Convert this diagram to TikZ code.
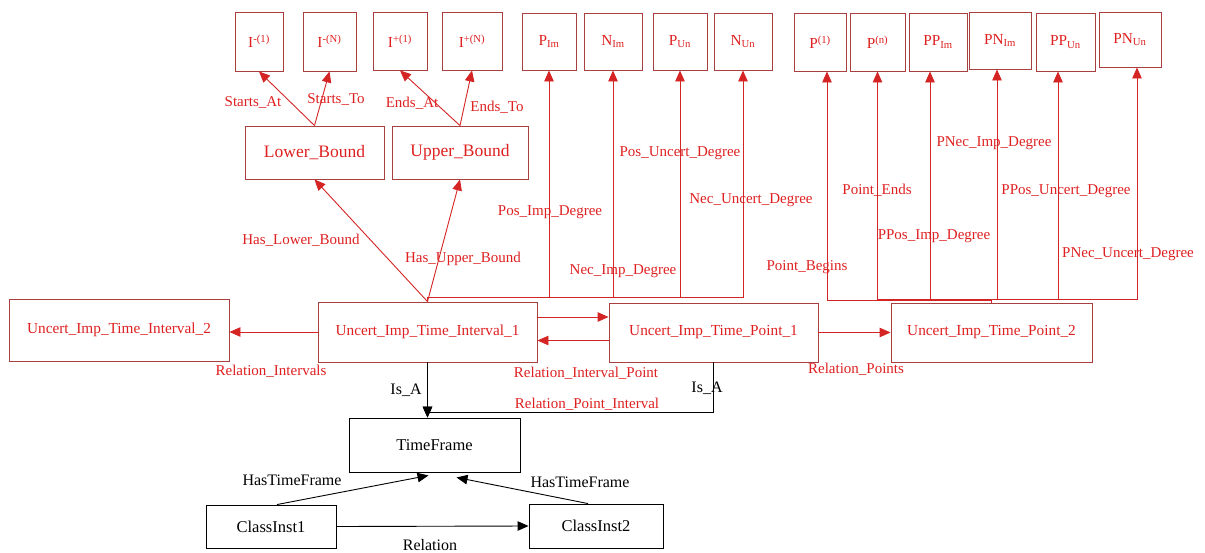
\documentclass[tikz,border=0pt]{standalone}
\usepackage{fontspec}
\setmainfont{Liberation Serif}
\usetikzlibrary{arrows.meta}
\definecolor{boxred}{RGB}{168,64,64}
\definecolor{txtred}{RGB}{222,32,32}
\definecolor{edgered}{RGB}{212,36,36}
\tikzset{
  rbox/.style={draw=boxred, line width=0.9pt, text=txtred, inner sep=0pt, font=\fontsize{15.3}{17}\selectfont},
  kbox/.style={draw=black, line width=0.9pt, text=black, inner sep=0pt, font=\fontsize{16.5}{19}\selectfont},
  rlbl/.style={text=txtred, inner sep=0pt, font=\fontsize{15}{17}\selectfont},
  klbl/.style={text=black, inner sep=0pt, font=\fontsize{16}{18}\selectfont},
  rarr/.style={draw=edgered, line width=0.9pt, -{Triangle[length=11pt,width=9.5pt]}},
  karr/.style={draw=black, line width=0.9pt, -{Triangle[length=11pt,width=9.5pt]}},
}
\begin{document}
\begin{tikzpicture}[x=1pt, y=-1pt]
				\useasboundingbox (0,0) rectangle (1205,552);
				% top row
				\node[rbox, minimum width=48pt, minimum height=59pt] (imone) at (259,41.5) {I\textsuperscript{-(1)}};
				\node[rbox, minimum width=53pt, minimum height=59pt] (imn) at (329.5,41.5) {I\textsuperscript{-(N)}};
				\node[rbox, minimum width=54pt, minimum height=58pt] (ipone) at (400,41) {I\textsuperscript{+(1)}};
				\node[rbox, minimum width=60pt, minimum height=58pt] (ipn) at (472,41) {I\textsuperscript{+(N)}};
				\node[rbox, minimum width=54pt, minimum height=57pt] (pim) at (549,41.5) {P\textsubscript{Im}};
				\node[rbox, minimum width=58pt, minimum height=57pt] (nim) at (613,41.5) {N\textsubscript{Im}};
				\node[rbox, minimum width=54pt, minimum height=57pt] (pun) at (680,41.5) {P\textsubscript{Un}};
				\node[rbox, minimum width=58pt, minimum height=57pt] (nun) at (743,41.5) {N\textsubscript{Un}};
				\node[rbox, minimum width=52pt, minimum height=58pt] (tpone) at (820,42) {P\textsuperscript{(1)}};
				\node[rbox, minimum width=55pt, minimum height=58pt] (tpn) at (877.5,42) {P\textsuperscript{(n)}};
				\node[rbox, minimum width=58pt, minimum height=58pt] (ppim) at (938,42) {PP\textsubscript{Im}};
				\node[rbox, minimum width=62pt, minimum height=57pt] (pnim) at (1000,40.5) {PN\textsubscript{Im}};
				\node[rbox, minimum width=59pt, minimum height=58pt] (ppun) at (1065.5,42) {PP\textsubscript{Un}};
				\node[rbox, minimum width=62pt, minimum height=55pt] (pnun) at (1130,39.5) {PN\textsubscript{Un}};
				% bounds
				\node[rbox, minimum width=139pt, minimum height=53pt, font=\fontsize{17.5}{20}\selectfont] (lowb) at (314.5,152.5) {Lower\_Bound};
				\node[rbox, minimum width=136pt, minimum height=53pt, font=\fontsize{17.5}{20}\selectfont] (upb) at (460,152.5) {Upper\_Bound};
				% middle row
				\node[rbox, minimum width=220pt, minimum height=62pt] (intvtwo) at (119,330) {Uncert\_Imp\_Time\_Interval\_2};
				\node[rbox, minimum width=219pt, minimum height=60pt] (intvone) at (427.5,332) {Uncert\_Imp\_Time\_Interval\_1};
				\node[rbox, minimum width=209pt, minimum height=59pt] (ptone) at (713.5,332.5) {Uncert\_Imp\_Time\_Point\_1};
				\node[rbox, minimum width=201pt, minimum height=59pt] (pttwo) at (991.5,332.5) {Uncert\_Imp\_Time\_Point\_2};
				% bottom
				\node[kbox, minimum width=171pt, minimum height=54pt] (tframe) at (434.5,445) {TimeFrame};
				\node[kbox, minimum width=130pt, minimum height=43pt] (clsone) at (271,526.5) {ClassInst1};
				\node[kbox, minimum width=134pt, minimum height=44pt] (clstwo) at (596,526) {ClassInst2};
				\coordinate (tfin) at (intvone.south |- tframe.north);
				% bound edges
				\draw[rarr] (lowb.north) -- (imone.south);
				\draw[rarr] (lowb.north) -- (imn.south);
				\draw[rarr] (upb.north) -- (ipone.south);
				\draw[rarr] (upb.north) -- (ipn.south);
				\draw[rarr] (intvone.north) -- (lowb.south);
				\draw[rarr] (intvone.north) -- (upb.south);
				% interval degrees
				\draw[rarr] (intvone.north) -- ([yshift=4pt]intvone.north) -| (pim.south);
				\draw[rarr] (intvone.north) -- ([yshift=4pt]intvone.north) -| (nim.south);
				\draw[rarr] (intvone.north) -- ([yshift=4pt]intvone.north) -| (pun.south);
				\draw[rarr] (intvone.north) -- ([yshift=4pt]intvone.north) -| (nun.south);
				% point degrees
				\draw[rarr] (pttwo.north) -- ([yshift=2pt]pttwo.north) -| ([xshift=7pt]tpone.south);
				\draw[rarr] (pttwo.north) -- ([yshift=3pt]pttwo.north) -| (tpn.south);
				\draw[rarr] (pttwo.north) -- ([yshift=3pt]pttwo.north) -| ([xshift=-8pt]ppim.south);
				\draw[rarr] (pttwo.north) -- ([yshift=3pt]pttwo.north) -| ([xshift=-3pt]pnim.south);
				\draw[rarr] (pttwo.north) -- ([yshift=3pt]pttwo.north) -| ([xshift=-7.5pt]ppun.south);
				\draw[rarr] (pttwo.north) -- ([yshift=3pt]pttwo.north) -| ([xshift=7pt]pnun.south);
				% relations
				\draw[rarr] (intvone.west) -- (intvone.west -| intvtwo.east);
				\draw[rarr] ([yshift=15pt]intvone.east) -- ([yshift=15pt]intvone.east -| ptone.west);
				\draw[rarr] ([yshift=-8pt]ptone.west) -- ([yshift=-8pt]ptone.west -| intvone.east);
				\draw[rarr] (ptone.east) -- (pttwo.west);
				\draw[karr] (intvone.south) -- (tfin);
				\draw[karr] (ptone.south) |- ([yshift=5pt]tfin) -- (tfin);
				\draw[karr] ([xshift=6pt]clsone.north) -- ([xshift=-6pt,yshift=-3pt]tframe.south);
				\draw[karr] ([xshift=-8pt]clstwo.north) -- ([xshift=22pt,yshift=-5pt]tframe.south);
				\draw[karr] (clsone.east) -- (clstwo.west);
				% labels
				\node[rlbl] (lsa) at (253,102) {Starts\_At};
				\node[rlbl] (lst) at (336,99) {Starts\_To};
				\node[rlbl] (lea) at (412,103) {Ends\_At};
				\node[rlbl] (let) at (497,107) {Ends\_To};
				\node[rlbl] (lhlb) at (301,240) {Has\_Lower\_Bound};
				\node[rlbl] (lhub) at (463,259) {Has\_Upper\_Bound};
				\node[rlbl] (lpid) at (550,212) {Pos\_Imp\_Degree};
				\node[rlbl] (lnid) at (623,271) {Nec\_Imp\_Degree};
				\node[rlbl] (lpud) at (680,153) {Pos\_Uncert\_Degree};
				\node[rlbl] (lnud) at (751,200) {Nec\_Uncert\_Degree};
				\node[rlbl] (lpb) at (807,267) {Point\_Begins};
				\node[rlbl] (lpe) at (877,190) {Point\_Ends};
				\node[rlbl] (lppid) at (934,236) {PPos\_Imp\_Degree};
				\node[rlbl] (lpnid) at (994,143) {PNec\_Imp\_Degree};
				\node[rlbl] (lppud) at (1066,191) {PPos\_Uncert\_Degree};
				\node[rlbl] (lpnud) at (1128,254) {PNec\_Uncert\_Degree};
				\node[rlbl] (lri) at (271,371) {Relation\_Intervals};
				\node[rlbl] (lrip) at (586,373) {Relation\_Interval\_Point};
				\node[rlbl] (lrpi) at (587,404) {Relation\_Point\_Interval};
				\node[rlbl] (lrp) at (856,369) {Relation\_Points};
				\node[klbl] (lisa) at (406,390) {Is\_A};
				\node[klbl] (lisb) at (707,388) {Is\_A};
				\node[klbl] (lhtfa) at (292,480) {HasTimeFrame};
				\node[klbl] (lhtfb) at (580,482) {HasTimeFrame};
				\node[klbl] (lrel) at (430,545) {Relation};
			\end{tikzpicture}
\end{document}
